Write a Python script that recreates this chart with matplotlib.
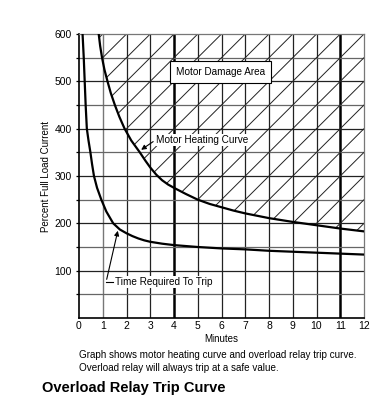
import numpy as np
import matplotlib.pyplot as plt
from matplotlib.patches import Polygon

plt.rcParams['font.family'] = ['Liberation Sans', 'DejaVu Sans']

# Motor heating curve (minutes, percent full load current)
heat_min = [0.83, 0.89, 0.97, 1.07, 1.2, 1.34, 1.51, 1.7, 1.92, 2.2, 2.56, 2.8, 3.0, 3.25, 3.5, 3.75, 4.0,
            4.5, 5.0, 5.5, 6.0, 6.5, 7.0, 7.5, 8.0, 9.0, 10.0, 11.0, 12.0]
heat_pct = [600, 575, 550, 525, 500, 475, 450, 425, 400, 375, 350, 332, 318, 303, 291, 282, 275,
            262, 250, 241, 234, 227, 221, 216, 211, 203, 196, 189, 183]

# Overload relay trip curve
trip_min = [0.15, 0.2, 0.24, 0.28, 0.33, 0.4, 0.48, 0.55, 0.63, 0.76, 0.94, 1.15, 1.44, 1.72, 2.0,
            2.25, 2.5, 2.75, 3.0, 3.5, 4.0, 4.5, 5.0, 6.0, 7.0, 8.0, 9.0, 10.0, 11.0, 12.0]
trip_pct = [600, 550, 500, 450, 400, 375, 350, 325, 300, 275, 250, 225, 200, 187, 179,
            173, 168, 164, 161, 157, 154, 152, 150, 147, 145, 142, 140, 138, 136, 134]

x_ticks = list(range(0, 13))
y_ticks = [100, 200, 300, 400, 500, 600]

fig = plt.figure(figsize=(3.78, 4.15), dpi=100)
ax = fig.add_axes([79 / 378, 1 - 318 / 415, 285 / 378, 284 / 415])
ax.set_xlim(0, 12)
ax.set_ylim(0, 600)

# grid
for x in range(1, 12):
    if x in (4, 11):
        ax.axvline(x, color='black', lw=1.8, zorder=1)
    elif x == 1:
        ax.axvline(x, color='#777777', lw=1.0, zorder=1)
    else:
        ax.axvline(x, color='#222222', lw=0.9, zorder=1)
for y in range(50, 600, 50):
    col = '#222222' if y % 100 == 0 else '#666666'
    ax.axhline(y, color=col, lw=0.9, zorder=1)

# hatched damage area above heating curve: diagonals through grid corners
region = list(zip(heat_min, heat_pct)) + [(12, 600)]
clip = Polygon(region, closed=True, transform=ax.transData, facecolor='none', edgecolor='none')
ax.add_patch(clip)
for k in np.arange(-12, 13, 1):
    xs = np.array([k, k + 12])
    ln, = ax.plot(xs, 50 * (xs - k), color='#222222', lw=0.7, zorder=1.5)
    ln.set_clip_path(clip)

ax.plot(heat_min, heat_pct, color='black', lw=1.6, zorder=3)
ax.plot(trip_min, trip_pct, color='black', lw=1.6, zorder=3)

# labels in the plot
ax.text(5.95, 519, 'Motor Damage Area', ha='center', va='center', fontsize=7.2, zorder=5,
        bbox=dict(boxstyle='square,pad=0.6', facecolor='white', edgecolor='black', lw=0.8))
ax.text(3.25, 377, 'Motor Heating Curve', ha='left', va='center', fontsize=7.2, zorder=5,
        bbox=dict(boxstyle='square,pad=0.1', facecolor='white', edgecolor='none'))
ax.annotate('', xy=(2.52, 352), xytext=(3.22, 376), zorder=5,
            arrowprops=dict(arrowstyle='-|>', color='black', lw=0.8, mutation_scale=7))
ax.text(1.5, 76, 'Time Required To Trip', ha='left', va='center', fontsize=7.2, zorder=5,
        bbox=dict(boxstyle='square,pad=0.1', facecolor='white', edgecolor='none'))
ax.plot([1.14, 1.45], [76, 76], color='black', lw=0.8, zorder=5)
ax.annotate('', xy=(1.66, 190), xytext=(1.14, 76), zorder=5,
            arrowprops=dict(arrowstyle='-|>', color='black', lw=0.8, mutation_scale=7))

for s in ['top', 'right']:
    ax.spines[s].set_color('#777777')
    ax.spines[s].set_linewidth(0.9)
for s in ['left', 'bottom']:
    ax.spines[s].set_color('black')
    ax.spines[s].set_linewidth(1.2)

ax.set_xticks(x_ticks)
ax.set_xticklabels([str(v) for v in x_ticks])
ax.set_yticks(y_ticks)
ax.set_yticks(range(50, 601, 100), minor=True)
ax.tick_params(axis='y', which='both', length=2, width=0.9, labelsize=7.5, pad=3)
ax.tick_params(axis='x', length=0, labelsize=7.5, pad=2)
ax.set_xlabel('Minutes', fontsize=7, labelpad=2)
ax.set_ylabel('Percent Full Load Current', fontsize=7, labelpad=3)

fig.text(79 / 378, 1 - 355 / 415, 'Graph shows motor heating curve and overload relay trip curve.',
         fontsize=7.1, va='center', ha='left')
fig.text(79 / 378, 1 - 368 / 415, 'Overload relay will always trip at a safe value.',
         fontsize=7.1, va='center', ha='left')
fig.text(42 / 378, 1 - 388 / 415, 'Overload Relay Trip Curve', fontsize=10.5, fontweight='bold',
         va='center', ha='left')

fig.savefig('out.png', dpi=100)
